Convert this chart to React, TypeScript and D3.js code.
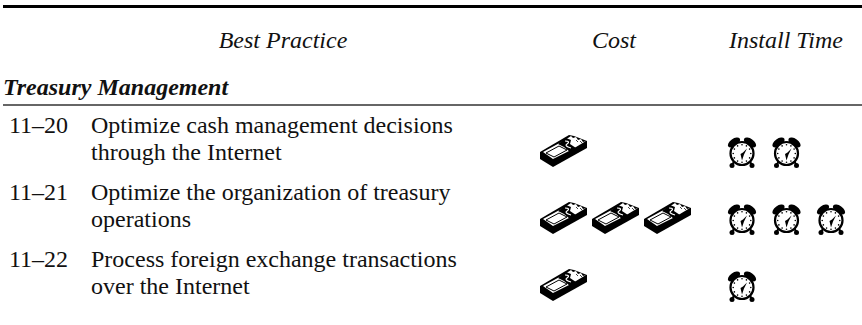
import * as d3 from 'd3';

const title = 'Treasury Management';
const headers = ['Best Practice', 'Cost', 'Install Time'];
const ids = ['11–20', '11–21', '11–22'];
const practices = [
  ['Optimize cash management decisions', 'through the Internet'],
  ['Optimize the organization of treasury', 'operations'],
  ['Process foreign exchange transactions', 'over the Internet'],
];
const costIcons = [1, 3, 1];
const timeIcons = [2, 3, 1];

const W = 862;
const H = 325;
const serif = '"Liberation Serif", "Times New Roman", serif';

function Money({ x, y }: { x: number; y: number }) {
  return (
    <g transform={`translate(${x},${y})`}>
      {/* stack of bills, black base with the white top face on it */}
      <path d="M0,17 L29,0 L34,1 L47,6 L47,13 L13,32 L0,24 Z" fill="#000" />
      <path d="M3,17 L25,5 L31,1 L33,3 L36,2 L38,5 L41,4 L43,7 L46,6 L31,15 L13,24 Z" fill="#fff" />
      <path d="M6,18 L19,11 L27,15 L14,22 Z" fill="none" stroke="#000" strokeWidth={1} />
      <path d="M18,9 L26,3 L31,5 L30,9 L36,13 L30,17 L24,12 Z" fill="#000" />
      <path d="M25,6 Q31,6 27,9 Q24,11 31,13" fill="none" stroke="#fff" strokeWidth={1.2} />
      <path d="M36,5 L38,7 M40,6 L42,8" stroke="#444" strokeWidth={1} />
    </g>
  );
}

function Clock({ x, y }: { x: number; y: number }) {
  const ticks = d3.range(12).map((i) => (i * Math.PI) / 6);
  return (
    <g transform={`translate(${x},${y})`}>
      <ellipse cx={7} cy={5} rx={7} ry={3.8} transform="rotate(-35 7 5)" fill="#000" />
      <ellipse cx={23} cy={5} rx={7} ry={3.8} transform="rotate(35 23 5)" fill="#000" />
      <path d="M7,24 L5,28 M23,24 L25,28" stroke="#000" strokeWidth={2} />
      <circle cx={5} cy={28} r={2.5} fill="#000" />
      <circle cx={25} cy={28} r={2.5} fill="#000" />
      <circle cx={15} cy={16} r={11.5} fill="#fff" stroke="#000" strokeWidth={2.2} />
      {ticks.map((a, i) => (
        <circle key={i} cx={15 + 8.8 * Math.cos(a)} cy={16 + 8.8 * Math.sin(a)} r={0.8} fill="#000" />
      ))}
      <path d="M15,23 L13.5,16.5 L16,15 L20,11 L17,17 Z" fill="#000" />
    </g>
  );
}

export default function App() {
  const rowY = d3.scalePoint<number>().domain(d3.range(ids.length)).range([133, 267]);
  const costX = d3.scaleLinear().domain([0, 1]).range([540, 592]);
  const timeX = d3.scaleLinear().domain([0, 1]).range([727, 771.5]);

  return (
    <svg
      width={W}
      height={H}
      style={{ position: 'absolute', left: 0, top: 0, background: '#fff' }}
      fontFamily={serif}
      fontSize={24}
      fill="#111"
    >
      <line x1={3} x2={W} y1={6.5} y2={6.5} stroke="#000" strokeWidth={3} />
      <line x1={3} x2={W} y1={105} y2={105} stroke="#333" strokeWidth={1.5} />

      <g fontStyle="italic">
        <text x={283} y={48} textAnchor="middle">{headers[0]}</text>
        <text x={614} y={48} textAnchor="middle">{headers[1]}</text>
        <text x={786} y={48} textAnchor="middle">{headers[2]}</text>
      </g>
      <text x={3} y={95} fontStyle="italic" fontWeight="bold">{title}</text>

      {ids.map((id, i) => {
        const y = rowY(i) as number;
        return (
          <g key={id}>
            <text x={9} y={y}>{id}</text>
            {practices[i].map((line, j) => (
              <text key={j} x={91} y={y + j * 26.5}>{line}</text>
            ))}
            {d3.range(costIcons[i]).map((k) => (
              <Money key={k} x={costX(k)} y={y + 2} />
            ))}
            {d3.range(timeIcons[i]).map((k) => (
              <Clock key={k} x={timeX(k)} y={y + 4.5} />
            ))}
          </g>
        );
      })}
    </svg>
  );
}
